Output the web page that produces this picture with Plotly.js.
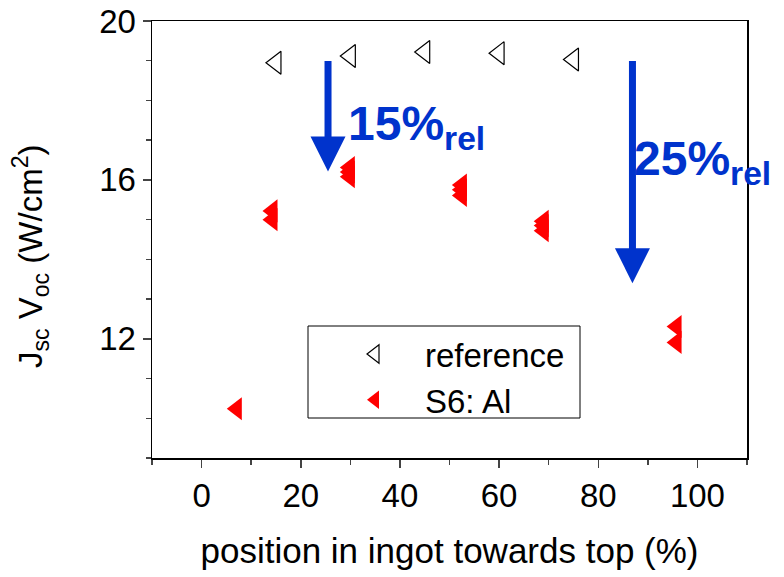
<!DOCTYPE html>
<html><head><meta charset="utf-8">
<script src="https://cdn.plot.ly/plotly-3.0.1.min.js"></script>
<style>html,body{margin:0;padding:0;background:#fff}</style>
</head><body>
<div id="chart" style="width:784px;height:577px"></div>
<script>
// reference cells (open triangles)
const refX = [15, 30, 45, 60, 75];
const refY = [18.95, 19.12, 19.22, 19.19, 19.03];
// S6: Al cells (filled red triangles)
const alX = [14.3, 14.3, 29.9, 29.9, 29.9, 52.5, 52.5, 52.5, 69.0, 69.0, 69.0, 95.8, 95.8, 7.1];
const alY = [15.22, 15.0, 16.31, 16.2, 16.08, 15.87, 15.75, 15.61, 14.96, 14.85, 14.72, 12.31, 11.91, 10.24];
// axis ticks
const xTicks = [0, 20, 40, 60, 80, 100];
const yTicks = [12, 16, 20];
// arrows with their labels
const arrow1 = {x: 25.5, tail: 19.03, tip: 16.21, label: '15%<sub>rel</sub>', lx: 29.2, ly: 17.34};
const arrow2 = {x: 86.9, tail: 19.03, tip: 13.40, label: '25%<sub>rel</sub>', lx: 86.9, ly: 16.44};

const FONT = 'Liberation Sans, Arial, sans-serif';
const BLUE = '#0033cc';
const L = 152, R = 747, T = 21, B = 458;
const px2x = p => (p - L) / (R - L);
const py2y = p => (B - p) / (B - T);

const traces = [
  {x: refX, y: refY, type: 'scatter', mode: 'markers', name: 'reference',
   marker: {symbol: 'triangle-left-open', size: 20, color: '#000', line: {width: 1.2, color: '#000'}}},
  {x: alX, y: alY, type: 'scatter', mode: 'markers', name: 'S6: Al',
   marker: {symbol: 'triangle-left', size: 20, color: '#ff0000', line: {width: 0}}}
];

function arrowAnn(a) {
  return {x: a.x, y: a.tip, ax: a.x, ay: a.tail, xref: 'x', yref: 'y', axref: 'x', ayref: 'y',
    text: '', showarrow: true, arrowhead: 2, arrowsize: 1, arrowwidth: 7, arrowcolor: BLUE, standoff: 0};
}
function labelAnn(a) {
  return {x: a.lx, y: a.ly, xref: 'x', yref: 'y', text: a.label, showarrow: false,
    xanchor: 'left', yanchor: 'middle',
    font: {family: FONT, size: 48, color: BLUE, weight: 'bold'}};
}

const layout = {
  width: 784, height: 577,
  margin: {l: L, r: 784 - R, t: T, b: 577 - B},
  paper_bgcolor: '#fff', plot_bgcolor: '#fff',
  font: {family: FONT, color: '#000'},
  showlegend: true,
  legend: {x: px2x(325), y: py2y(326), xanchor: 'left', yanchor: 'top', bgcolor: 'rgba(0,0,0,0)',
    borderwidth: 0, font: {family: FONT, size: 33, color: '#000'}, itemwidth: 90},
  xaxis: {range: [-10, 110], tickmode: 'array', tickvals: xTicks, ticks: 'outside', ticklen: 8, tickwidth: 1.5,
    linecolor: '#000', linewidth: 1.5, mirror: true, showgrid: false, zeroline: false,
    tickfont: {family: FONT, size: 33},
    minor: {tick0: 0, dtick: 10, ticks: 'outside', ticklen: 5, tickwidth: 1.5, showgrid: false},
    title: {text: 'position in ingot towards top (%)', font: {family: FONT, size: 35}, standoff: 25}},
  yaxis: {range: [9, 20], tickmode: 'array', tickvals: yTicks, ticks: 'outside', ticklen: 8, tickwidth: 1.5,
    linecolor: '#000', linewidth: 1.5, mirror: true, showgrid: false, zeroline: false,
    tickfont: {family: FONT, size: 33},
    minor: {tick0: 0, dtick: 1, ticks: 'outside', ticklen: 5, tickwidth: 1.5, showgrid: false}},
  shapes: [{type: 'rect', xref: 'paper', yref: 'paper', x0: px2x(308), x1: px2x(580),
    y0: py2y(418), y1: py2y(326), line: {color: '#000', width: 1}, fillcolor: 'rgba(0,0,0,0)'}],
  annotations: [
    arrowAnn(arrow1), arrowAnn(arrow2), labelAnn(arrow1), labelAnn(arrow2),
    {xref: 'paper', yref: 'paper', x: px2x(30), y: py2y(257), xanchor: 'center', yanchor: 'middle',
     textangle: -90, showarrow: false, text: 'J<sub>sc</sub> V<sub>oc</sub> (W/cm<sup>2</sup>)',
     font: {family: FONT, size: 33, color: '#000'}}
  ]
};

Plotly.newPlot('chart', traces, layout, {displayModeBar: false, staticPlot: true});
</script>
</body></html>
